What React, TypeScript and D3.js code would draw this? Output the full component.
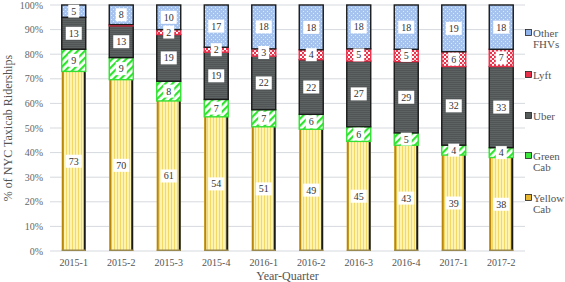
import React from "react";
import * as d3 from "d3";

const categories = ["2015-1","2015-2","2015-3","2015-4","2016-1","2016-2","2016-3","2016-4","2017-1","2017-2"];
const yellowCab = [73,70,61,54,51,49,45,43,39,38];
const greenCab = [9,9,8,7,7,6,6,5,4,4];
const uber = [13,13,19,19,22,22,27,29,32,33];
const lyft = [0,0.5,2,2,3,4,5,5,6,7];
const otherFHVs = [5,8,10,17,18,18,18,18,19,18];
const yTicks = [0,0.1,0.2,0.3,0.4,0.5,0.6,0.7,0.8,0.9,1];

const seriesKeys = ["yellow","green","uber","lyft","other"];
const seriesValues: Record<string, number[]> = { yellow: yellowCab, green: greenCab, uber, lyft, other: otherFHVs };
const legendItems = [
  { key: "other", lines: ["Other", "FHVs"] },
  { key: "lyft", lines: ["Lyft"] },
  { key: "uber", lines: ["Uber"] },
  { key: "green", lines: ["Green", "Cab"] },
  { key: "yellow", lines: ["Yellow", "Cab"] },
];

const FONT = "'Liberation Serif', 'Times New Roman', serif";

export default function App() {
  const W = 565, H = 282;
  const x = d3.scaleBand<string>().domain(categories).range([50, 525]).paddingInner(0.495).paddingOuter(0.2475);
  const y = d3.scaleLinear().domain([0, 1]).range([251, 5]);

  const table = categories.map((c, i) => {
    const row: any = { cat: c };
    seriesKeys.forEach(k => (row[k] = seriesValues[k][i]));
    return row;
  });
  const stack = d3.stack<any>().keys(seriesKeys).offset(d3.stackOffsetExpand);
  const stacked = stack(table);

  const fills: Record<string, string> = {
    yellow: "url(#pYellow)", green: "url(#pGreen)", uber: "url(#pUber)", lyft: "url(#pLyft)", other: "url(#pOther)",
  };
  const strokes: Record<string, string> = {
    yellow: "none", green: "#33e033", uber: "#1a1a1a", lyft: "#e8304a", other: "#1a1a1a",
  };
  const legendFill: Record<string, string> = {
    yellow: "#e8b830", green: "#3ce83c", uber: "#555a5a", lyft: "#e8304a", other: "#8fb3ea",
  };
  const bw = x.bandwidth();

  return (
    <svg width={W} height={H} style={{ position: "absolute", left: 0, top: 0, background: "#fff" }}>
      <defs>
        <pattern id="pYellow" width="3" height="4" patternUnits="userSpaceOnUse">
          <rect width="3" height="4" fill="#fff3b0" />
          <rect width="1" height="4" fill="#f3d865" />
        </pattern>
        <pattern id="pGreen" width="5" height="5" patternUnits="userSpaceOnUse" patternTransform="rotate(45)">
          <rect width="5" height="5" fill="#ffffff" />
          <rect width="2.2" height="5" fill="#2fe42f" />
        </pattern>
        <pattern id="pUber" width="4" height="2" patternUnits="userSpaceOnUse">
          <rect width="4" height="2" fill="#5d6262" />
          <rect width="4" height="0.7" fill="#4b4f4f" />
        </pattern>
        <pattern id="pLyft" width="4" height="4" patternUnits="userSpaceOnUse">
          <rect width="4" height="4" fill="#e8344c" />
          <rect x="0" y="0" width="2" height="2" fill="#ffffff" />
          <rect x="2" y="2" width="2" height="2" fill="#fbd0d6" />
        </pattern>
        <pattern id="pOther" width="4" height="4" patternUnits="userSpaceOnUse">
          <rect width="4" height="4" fill="#a6c3f0" />
          <rect x="1" y="1" width="1" height="1" fill="#dfe9fb" />
          <rect x="3" y="3" width="1" height="1" fill="#dfe9fb" />
        </pattern>
      </defs>

      {yTicks.map(t => (
        <g key={t}>
          <line x1={50} x2={525} y1={y(t)} y2={y(t)} stroke="#d6d9de" strokeWidth={1} />
          <text x={43} y={y(t) + 3.5} textAnchor="end" fontFamily={FONT} fontSize={10} fill="#666">
            {d3.format(".0%")(t)}
          </text>
        </g>
      ))}

      {stacked.map(s => (
        <g key={s.key}>
          {s.map((d, i) => {
            const x0 = x(categories[i]) as number;
            const top = y(d[1]);
            const bot = y(d[0]);
            const h = bot - top;
            if (h <= 0) return null;
            return (
              <g key={i}>
                <rect x={x0} y={top} width={bw} height={h} fill={fills[s.key]}
                  stroke={strokes[s.key]} strokeWidth={s.key === "yellow" ? 0 : 1.4} />
                {s.key === "yellow" && (
                  <>
                    <rect x={x0} y={top} width={2} height={h} fill="#b8860b" />
                    <rect x={x0 + bw - 2} y={top} width={2} height={h} fill="#1a1a1a" />
                    <rect x={x0} y={bot - 1.5} width={bw} height={1.5} fill="#9a8a50" />
                  </>
                )}
              </g>
            );
          })}
        </g>
      ))}

      {stacked.map(s => (
        <g key={"l" + s.key}>
          {s.map((d, i) => {
            const v = seriesValues[s.key][i];
            if (v < 1) return null;
            const cx = (x(categories[i]) as number) + bw / 2;
            const cy = (y(d[0]) + y(d[1])) / 2;
            const label = String(v);
            const w = label.length > 1 ? 16 : 11;
            return (
              <g key={i}>
                <rect x={cx - w / 2} y={cy - 6.5} width={w} height={13} fill="#fff" />
                <text x={cx} y={cy + 3.5} textAnchor="middle" fontFamily={FONT} fontSize={10} fill="#333">
                  {label}
                </text>
              </g>
            );
          })}
        </g>
      ))}

      {categories.map(c => (
        <text key={c} x={(x(c) as number) + bw / 2} y={266} textAnchor="middle" fontFamily={FONT} fontSize={10} fill="#555">
          {c}
        </text>
      ))}
      <text x={287.5} y={280} textAnchor="middle" fontFamily={FONT} fontSize={12} fill="#555">Year-Quarter</text>
      <text transform="translate(12,128) rotate(-90)" textAnchor="middle" fontFamily={FONT} fontSize={12} fill="#555">
        % of NYC Taxicab Riderships
      </text>

      {legendItems.map((it, idx) => {
        const ys = [33, 75, 116, 156, 198];
        const ly = ys[idx];
        return (
          <g key={it.key}>
            <rect x={525.5} y={ly - 3.5} width={6} height={6} fill={legendFill[it.key]} stroke="#222" strokeWidth={0.8} />
            {it.lines.map((ln, j) => (
              <text key={j} x={533} y={ly + 4 + j * 11} fontFamily={FONT} fontSize={11} fill="#555">{ln}</text>
            ))}
          </g>
        );
      })}
    </svg>
  );
}
